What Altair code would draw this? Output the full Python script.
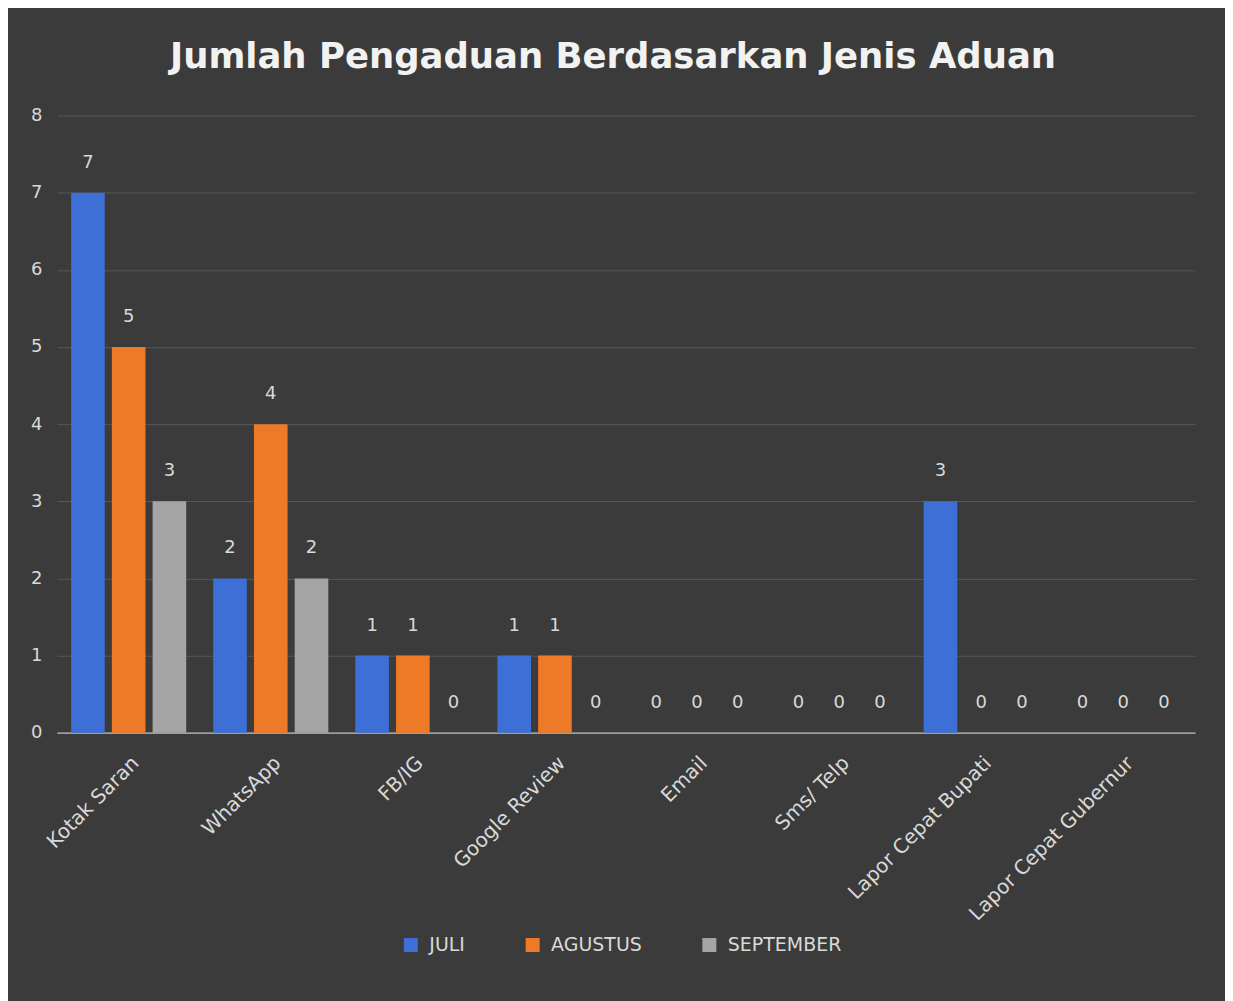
import altair as alt
import pandas as pd

categories = ["Kotak Saran", "WhatsApp", "FB/IG", "Google Review", "Email",
              "Sms/ Telp", "Lapor Cepat Bupati", "Lapor Cepat Gubernur"]
series = ["JULI", "AGUSTUS", "SEPTEMBER"]
juli = [7, 2, 1, 1, 0, 0, 3, 0]
agustus = [5, 4, 1, 1, 0, 0, 0, 0]
september = [3, 2, 0, 0, 0, 0, 0, 0]
y_ticks = [0, 1, 2, 3, 4, 5, 6, 7, 8]
colors = ["#3d6fd6", "#ee7a28", "#a5a5a5"]

rows = []
for name, vals in zip(series, [juli, agustus, september]):
    for c, v in zip(categories, vals):
        rows.append({"Jenis": c, "Bulan": name, "Jumlah": v})
df = pd.DataFrame(rows)

label_color = "#d9d9d9"
font = "DejaVu Sans"

x = alt.X("Jenis:N", sort=categories,
          scale=alt.Scale(paddingInner=0.19, paddingOuter=0.1),
          axis=alt.Axis(title=None, labelAngle=315, labelAlign="right",
                        labelBaseline="top", labelPadding=20, labelFontSize=20,
                        labelFont=font, labelColor=label_color, ticks=False,
                        grid=False, domainColor="#bdbdbd", domainWidth=1.5,
                        labelLimit=400))
xo = alt.XOffset("Bulan:N", sort=series,
                 scale=alt.Scale(paddingInner=0.175, paddingOuter=0))
y = alt.Y("Jumlah:Q", scale=alt.Scale(domain=[0, 8], nice=False),
          axis=alt.Axis(title=None, values=y_ticks, labelOverlap=False,
                        labelFontSize=18, labelFont=font, labelColor=label_color,
                        labelPadding=15, ticks=False, domain=False, grid=True,
                        gridColor="#575757", gridWidth=1))

bars = alt.Chart(df).mark_bar().encode(
    x=x, xOffset=xo, y=y,
    color=alt.Color("Bulan:N", sort=series,
                    scale=alt.Scale(domain=series, range=colors),
                    legend=alt.Legend(title=None, orient="none", legendX=345,
                                      legendY=821, direction="horizontal",
                                      symbolType="square", symbolSize=196,
                                      symbolStrokeWidth=0, labelFontSize=19,
                                      labelFont=font, labelColor=label_color,
                                      labelOffset=9, columnPadding=58,
                                      padding=0)),
)

texts = alt.Chart(df).mark_text(
    dy=-30, baseline="middle", align="center", fontSize=18, font=font,
    color=label_color,
).encode(x=x, xOffset=xo, y=y, text="Jumlah:Q")

chart = alt.layer(bars, texts).properties(
    width=1140, height=618,
    padding={"left": 49, "top": 107, "right": 30, "bottom": 268},
    autosize=alt.AutoSizeParams(type="none"),
    background="#3b3b3b",
    title=alt.TitleParams("Jumlah Pengaduan Berdasarkan Jenis Aduan",
                          anchor="middle", fontSize=35.5, font=font,
                          fontWeight="bold", color="#f2f2f2",
                          baseline="alphabetic", offset=3, dx=-13),
).configure_view(stroke=None)

chart.save("out.html", embed_options={"renderer": "svg", "actions": False})
